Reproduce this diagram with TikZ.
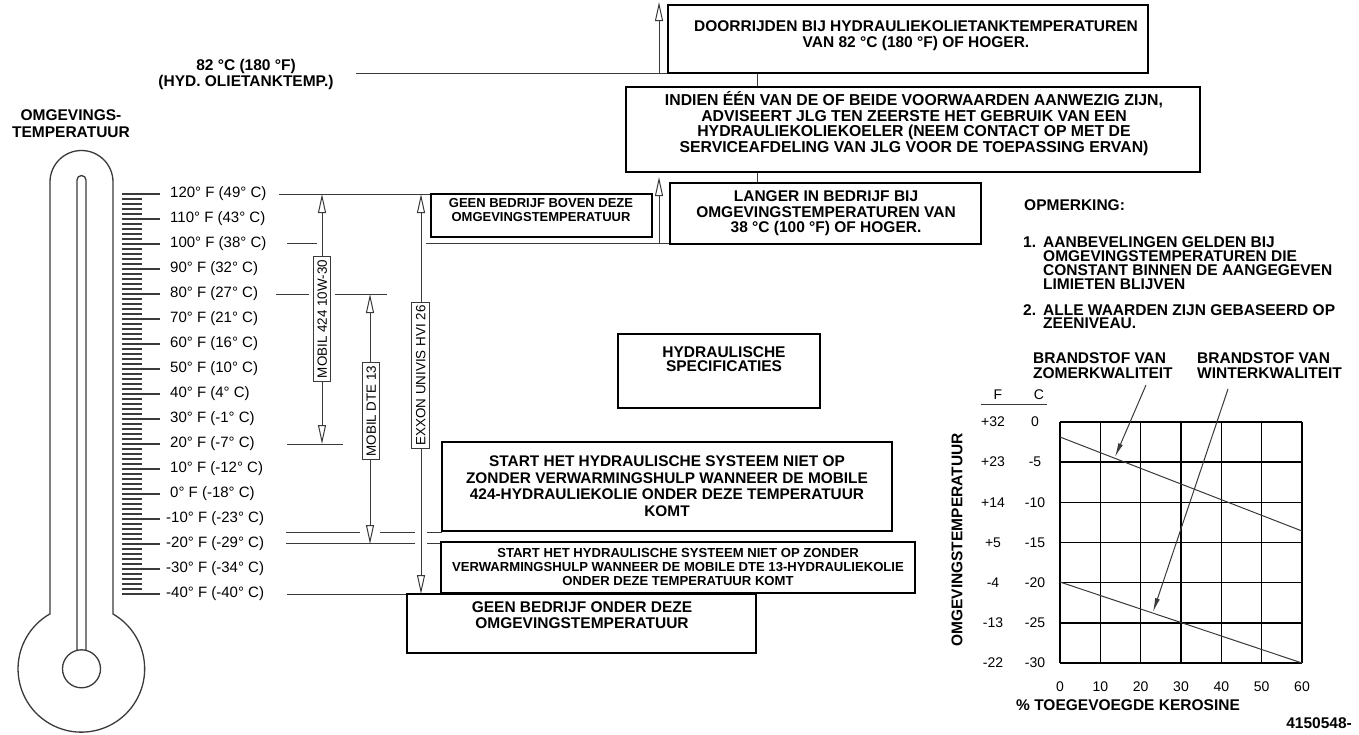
\documentclass[tikz,border=0pt]{standalone}
\usepackage{fontspec}
\setmainfont{Liberation Sans}
\usetikzlibrary{arrows.meta,fit}
\definecolor{ln}{HTML}{3A3A3A}
\tikzset{
  box/.style={draw=black, line width=2.2pt, inner sep=0pt},
  thin/.style={draw=ln, line width=1pt},
  thm/.style={draw=ln, line width=1.3pt},
  tick/.style={draw=ln, line width=1.1pt},
  oarrow/.style={thin, -{Triangle[open, length=19pt, width=8pt, fill=white]}},
  darrow/.style={thin, {Triangle[open, length=19pt, width=8pt, fill=white]}-{Triangle[open, length=19pt, width=8pt, fill=white]}},
  farrow/.style={thin, -{Latex[length=14pt, width=5pt]}},
  lbox/.style={draw=ln, line width=1pt, fill=white, rotate=90, inner xsep=3pt, inner ysep=4pt, text height=9.6pt, text depth=0pt, font=\fontsize{13.4}{14}\selectfont},
  T/.style 2 args={font=\fontsize{#1}{#2}\selectfont\bfseries, align=center, inner sep=0pt},
  TL/.style 2 args={font=\fontsize{#1}{#2}\selectfont\bfseries, align=left, inner sep=0pt},
  tl/.style={font=\fontsize{15}{16}\selectfont, anchor=west, inner sep=0pt},
  cl/.style={font=\fontsize{14}{15}\selectfont, inner sep=0pt},
  gridln/.style={draw=black, line width=1.6pt},
}
\begin{document}
\begin{tikzpicture}[x=1pt,y=-1pt]
\useasboundingbox (0,0) rectangle (1359,734);
\fill[white] (0,0) rectangle (1359,734);

% ---------- thermometer ----------
\draw[thm] (50,614) -- (50,182) arc[start angle=180, end angle=0, radius=31.5pt]
  -- (113,614) arc[start angle=60, end angle=-240, radius=63.3pt] -- cycle;
\draw[thm] (77,650.3) -- (77,180) arc[start angle=180, end angle=0, radius=4.5pt] -- (86,650.3);
\draw[thm] (81.5,668.8) circle[radius=19pt];
\foreach \i in {0,...,80} \draw[tick] (122,{194+5*\i}) -- (142,{194+5*\i});
\foreach \i in {0,...,16} \draw[tick] (122,{194+25*\i}) -- (160,{194+25*\i});
\foreach \t [count=\i from 0] in {120° F (49° C),110° F (43° C),100° F (38° C),90° F (32° C),80° F (27° C),70° F (21° C),60° F (16° C),50° F (10° C),40° F (4° C),30° F (-1° C),20° F (-7° C),10° F (-12° C),0° F (-18° C)}
  \node[tl] (t\i) at (170,{194+25*\i}) {\t};
\foreach \t [count=\i from 13] in {-10° F (-23° C),-20° F (-29° C),-30° F (-34° C),-40° F (-40° C)}
  \node[tl] (t\i) at (166,{194+25*\i}) {\t};
\node[T={15.5}{17}] (omg) at (71,123.5) {OMGEVINGS-\\TEMPERATUUR};

% ---------- level lines ----------
\draw[thin] (356,73) -- (668,73);
\draw[thin] (279,194) -- (431,194);
\draw[thin] (287,243) -- (317,243);
\draw[thin] (426,243) -- (670,243);
\draw[thin] (276,294) -- (309,294);
\draw[thin] (335,294) -- (387,294);
\draw[thin] (287,444) -- (343,444);
\draw[thin] (286,532) -- (360,532);
\draw[thin] (380,532) -- (415,532);
\draw[thin] (427,532) -- (442,532);
\draw[thin] (286,543) -- (415,543);
\draw[thin] (427,543) -- (441,543);
\draw[thin] (287,594) -- (407,594);

% ---------- oil range arrows ----------
\coordinate (m424t) at (322,194); \coordinate (m424b) at (322,444);
\coordinate (dtet) at (370,294);  \coordinate (dteb) at (370,544);
\coordinate (exxt) at (421,194);  \coordinate (exxb) at (421,594);
\draw[darrow] (m424t) -- (m424b);
\draw[darrow] (dtet) -- (dteb);
\draw[darrow] (exxt) -- (exxb);
\node[lbox] (m424) at (322,319) {MOBIL 424 10W-30};
\node[lbox] (dte) at (371,411) {MOBIL DTE 13};
\node[lbox] (exx) at (420.5,375.5) {EXXON UNIVIS HVI 26};

% ---------- top label ----------
\node[T={15.5}{16}] (hyd) at (246,74) {82 °C (180 °F)\\(HYD. OLIETANKTEMP.)};

% ---------- boxes ----------
\node[box, fit={(668,5) (1148,73)}] (b1) {};
\node[box, fit={(626,87) (1200,172)}] (b2) {};
\node[box, fit={(670,183) (981,244)}] (b3) {};
\node[box, fit={(431,194) (652,237)}] (bgb) {};
\node[box, fit={(618,334) (820,408)}] (bhs) {};
\node[box, fit={(442,442) (892,531)}] (b424) {};
\node[box, fit={(441,542) (915,593)}] (bdte) {};
\node[box, fit={(407,594) (756,653)}] (bgo) {};

\node[T={15.5}{15.5}] (b1t) at (916,35.5) {DOORRIJDEN BIJ HYDRAULIEKOLIETANKTEMPERATUREN\\VAN 82 °C (180 °F) OF HOGER.};
\node[T={15.8}{15.6}] (b2t) at (914,123.5) {INDIEN ÉÉN VAN DE OF BEIDE VOORWAARDEN AANWEZIG ZIJN,\\ADVISEERT JLG TEN ZEERSTE HET GEBRUIK VAN EEN\\HYDRAULIEKOLIEKOELER (NEEM CONTACT OP MET DE\\SERVICEAFDELING VAN JLG VOOR DE TOEPASSING ERVAN)};
\node[T={15.5}{15.5}] (b3t) at (826,213.5) {LANGER IN BEDRIJF BIJ\\OMGEVINGSTEMPERATUREN VAN\\38 °C (100 °F) OF HOGER.};
\node[T={13}{14}] (bgbt) at (541,210) {GEEN BEDRIJF BOVEN DEZE\\OMGEVINGSTEMPERATUUR};
\node[T={15.5}{14.5}] (bhst) at (724,359) {HYDRAULISCHE\\SPECIFICATIES};
\node[T={15.4}{16.6}] (b424t) at (667,486) {START HET HYDRAULISCHE SYSTEEM NIET OP\\ZONDER VERWARMINGSHULP WANNEER DE MOBILE\\424-HYDRAULIEKOLIE ONDER DEZE TEMPERATUUR\\KOMT};
\node[T={13.1}{14}] (bdtet) at (678,567) {START HET HYDRAULISCHE SYSTEEM NIET OP ZONDER\\VERWARMINGSHULP WANNEER DE MOBILE DTE 13-HYDRAULIEKOLIE\\ONDER DEZE TEMPERATUUR KOMT};
\node[T={15.5}{16}] (bgot) at (582,615) {GEEN BEDRIJF ONDER DEZE\\OMGEVINGSTEMPERATUUR};

% connectors between boxes
\coordinate (cx) at (757,0);
\draw[thin] (b1.south -| cx) -- (b2.north -| cx);
\draw[thin] (b2.south -| cx) -- (b3.north -| cx);
\coordinate (a1s) at (659,73); \coordinate (a1e) at (659,2);
\coordinate (a2s) at (659,243); \coordinate (a2e) at (659,177);
\draw[oarrow] (a1s) -- (a1e);
\draw[oarrow] (a2s) -- (a2e);

% ---------- notes ----------
\node[TL={15.5}{14}, anchor=west] (opm) at (1024,205) {OPMERKING:};
\node[TL={15.5}{14}, anchor=west] (n1) at (1023,242) {1.};
\node[TL={15.5}{14}, anchor=west] (n1t) at (1043,263) {AANBEVELINGEN GELDEN BIJ\\OMGEVINGSTEMPERATUREN DIE\\CONSTANT BINNEN DE AANGEGEVEN\\LIMIETEN BLIJVEN};
\node[TL={15.5}{14}, anchor=west] (n2) at (1023,310) {2.};
\node[TL={15.5}{13.5}, anchor=west] (n2t) at (1043,316.5) {ALLE WAARDEN ZIJN GEBASEERD OP\\ZEENIVEAU.};

% ---------- kerosene chart ----------
\foreach \i in {0,...,6} {
  \draw[gridln] ({1060+40.333*\i},422) -- ({1060+40.333*\i},663);
  \draw[gridln] (1060,{422+40.167*\i}) -- (1302,{422+40.167*\i});
}
\coordinate (s0) at (1060,437); \coordinate (s1) at (1302,531);
\coordinate (w0) at (1060,582); \coordinate (w1) at (1302,663);
\draw[thin] (s0) -- (s1);
\draw[thin] (w0) -- (w1);
\node[TL={15.5}{15}, anchor=west] (zom) at (1033,365.5) {BRANDSTOF VAN\\ZOMERKWALITEIT};
\node[TL={15.5}{15}, anchor=west] (win) at (1197,365.5) {BRANDSTOF VAN\\WINTERKWALITEIT};
\coordinate (za) at (1146,385); \coordinate (zb) at (1115,457);
\coordinate (wa) at (1228,389); \coordinate (wb) at (1153,612);
\draw[farrow] (za) -- (zb);
\draw[farrow] (wa) -- (wb);
\node[cl] (fh) at (998,395) {F};
\node[cl] (ch) at (1039,395) {C};
\draw[thin] (981,404) -- (1047,404);
\foreach \f [count=\i from 0] in {+32,+23,+14,+5,-4,-13,-22}
  \node[cl] (f\i) at (993,{422+40.167*\i}) {\f};
\foreach \c [count=\i from 0] in {0,-5,-10,-15,-20,-25,-30}
  \node[cl] (c\i) at (1035,{422+40.167*\i}) {\c};
\foreach \k [count=\i from 0] in {0,10,20,30,40,50,60}
  \node[cl] (k\i) at ({1060+40.333*\i},687) {\k};
\node[T={15.5}{16}] (ker) at (1128,705) {\% TOEGEVOEGDE KEROSINE};
\node[T={15.5}{16}, rotate=90] (yax) at (957,540) {OMGEVINGSTEMPERATUUR};
\node[T={15.5}{16}, anchor=east] (code) at (1352,723) {4150548-};
\end{tikzpicture}
\end{document}
